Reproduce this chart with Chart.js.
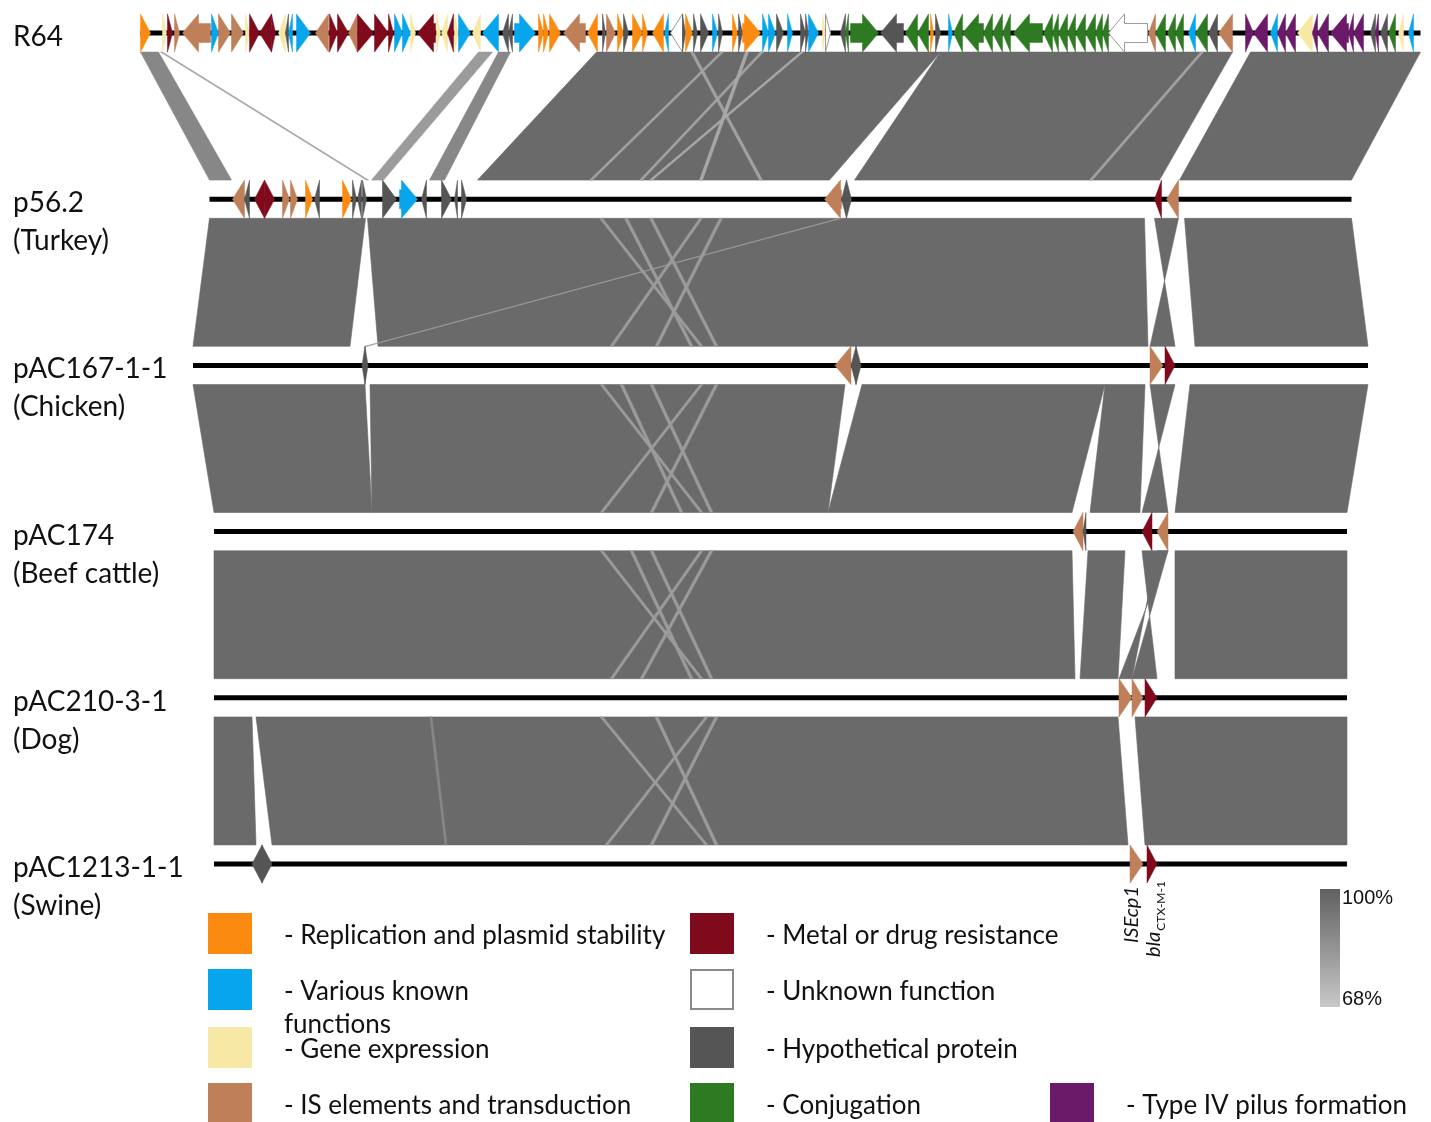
<!DOCTYPE html>
<html>
<head>
<meta charset="utf-8">
<script src="https://cdn.jsdelivr.net/npm/chart.js@4.4.1/dist/chart.umd.min.js"></script>
<style>
  html, body { margin: 0; padding: 0; background: #ffffff; }
  canvas { display: block; }
</style>
</head>
<body>
<canvas id="map" width="1431" height="1122"></canvas>
<script>
// ---- Plasmids (top to bottom) ----
const trackNames = ['R64', 'p56.2', 'pAC167-1-1', 'pAC174', 'pAC210-3-1', 'pAC1213-1-1'];
const trackHosts = ['', '(Turkey)', '(Chicken)', '(Beef cattle)', '(Dog)', '(Swine)'];
const trackLengthsKb = [128.0, 114.2, 117.5, 113.3, 113.3, 113.3];

// ---- Gene categories ----
const categoryKeys = ['rep', 'var', 'gex', 'is', 'res', 'unk', 'hyp', 'con', 't4p'];
const categoryLabels = [
  '- Replication and plasmid stability',
  '- Various known\nfunctions',
  '- Gene expression',
  '- IS elements and transduction',
  '- Metal or drug resistance',
  '- Unknown function',
  '- Hypothetical protein',
  '- Conjugation',
  '- Type IV pilus formation'
];

// ---- Genes: [start kb, end kb, strand, category] (positions from each plasmid's start) ----
const genesR64 = [
  [0.0, 1.0, 1, 'rep'], [2.2, 2.6, 1, 'gex'], [2.7, 3.2, 1, 'res'], [3.4, 3.9, 1, 'is'],
  [4.2, 7.0, -1, 'is'], [7.1, 7.8, 1, 'var'], [7.8, 9.0, 1, 'is'], [9.1, 10.3, 1, 'is'],
  [10.5, 10.9, 1, 'gex'], [10.9, 11.9, 1, 'res'], [11.9, 13.1, -1, 'res'], [13.1, 13.5, 1, 'res'],
  [13.8, 14.5, -1, 'gex'], [14.5, 14.8, -1, 'hyp'], [14.8, 15.2, -1, 'var'], [15.6, 17.0, 1, 'var'],
  [17.5, 18.8, -1, 'is'], [18.9, 19.7, 1, 'res'], [19.7, 20.8, 1, 'res'], [20.8, 21.7, -1, 'is'],
  [21.7, 23.3, 1, 'res'], [23.4, 24.8, 1, 'res'], [24.8, 25.3, 1, 'res'], [25.4, 26.2, 1, 'var'],
  [26.2, 27.0, 1, 'var'], [27.0, 27.5, 1, 'gex'], [27.7, 29.5, -1, 'res'], [29.6, 30.0, 1, 'gex'],
  [30.1, 30.7, -1, 'gex'], [30.7, 31.3, -1, 'res'], [31.4, 31.8, 1, 'gex'], [31.8, 33.0, 1, 'var'],
  [33.2, 34.0, -1, 'gex'], [34.2, 35.8, -1, 'var'], [36.2, 36.8, -1, 'hyp'], [36.8, 37.2, -1, 'hyp'],
  [37.4, 39.5, 1, 'var'], [39.8, 40.3, 1, 'rep'], [40.3, 40.8, 1, 'rep'], [40.9, 42.0, 1, 'rep'],
  [42.3, 44.5, -1, 'is'], [44.7, 45.7, -1, 'rep'], [46.2, 46.5, 1, 'hyp'], [46.6, 47.5, 1, 'is'],
  [47.7, 48.3, 1, 'rep'], [48.3, 48.8, 1, 'hyp'], [49.2, 50.2, 1, 'rep'], [50.2, 50.7, 1, 'rep'],
  [51.2, 52.3, -1, 'rep'], [52.4, 52.8, -1, 'var'], [53.0, 54.2, -1, 'unk'], [54.2, 54.5, 1, 'hyp'],
  [54.5, 55.2, 1, 'rep'], [55.3, 55.7, 1, 'hyp'], [56.0, 56.8, 1, 'hyp'], [57.2, 57.7, 1, 'var'],
  [57.8, 58.2, 1, 'hyp'], [59.2, 59.7, 1, 'rep'], [59.8, 60.2, 1, 'hyp'], [60.2, 62.0, 1, 'rep'],
  [62.2, 62.8, 1, 'var'], [62.8, 63.5, 1, 'var'], [63.6, 64.3, 1, 'hyp'], [64.7, 65.2, 1, 'var'],
  [66.0, 66.5, 1, 'hyp'], [66.5, 66.8, 1, 'hyp'], [66.8, 67.8, 1, 'var'], [68.2, 68.5, 1, 'gex'],
  [68.5, 69.0, 1, 'unk'], [70.0, 70.5, -1, 'hyp'], [70.5, 70.8, -1, 'con'], [71.0, 73.8, 1, 'con'],
  [74.0, 76.3, -1, 'hyp'], [76.5, 77.7, -1, 'con'], [77.7, 78.8, -1, 'con'], [79.0, 79.3, 1, 'rep'],
  [79.5, 80.0, 1, 'hyp'], [80.8, 81.2, 1, 'var'], [81.3, 82.2, -1, 'con'], [82.2, 84.3, -1, 'con'],
  [84.3, 85.2, -1, 'con'], [85.2, 86.2, -1, 'con'], [86.2, 87.0, -1, 'con'], [87.3, 90.2, -1, 'con'],
  [90.3, 91.2, -1, 'con'], [91.2, 91.8, -1, 'con'], [91.8, 92.7, -1, 'con'], [92.7, 93.5, -1, 'con'],
  [93.5, 94.5, -1, 'con'], [94.5, 95.5, -1, 'con'], [95.5, 96.2, -1, 'con'], [96.2, 96.8, -1, 'con'],
  [96.8, 100.7, -1, 'unk'], [100.8, 101.5, -1, 'is'], [101.5, 102.5, -1, 'con'], [102.7, 103.5, -1, 'con'],
  [103.5, 104.3, -1, 'con'], [104.8, 105.5, -1, 'var'], [105.5, 106.7, -1, 'con'], [106.8, 107.7, -1, 'hyp'],
  [107.8, 109.2, -1, 'is'], [110.5, 111.3, 1, 't4p'], [111.3, 112.7, -1, 't4p'], [113.0, 113.7, -1, 'var'],
  [113.7, 114.5, -1, 't4p'], [114.5, 115.5, -1, 't4p'], [115.7, 117.2, -1, 'gex'], [117.2, 117.7, -1, 't4p'],
  [117.7, 118.8, -1, 't4p'], [119.0, 120.8, -1, 't4p'], [120.8, 121.3, -1, 't4p'], [121.3, 122.3, -1, 't4p'],
  [123.0, 123.5, -1, 'hyp'], [123.5, 123.8, -1, 't4p'], [124.0, 124.7, -1, 'hyp'], [124.8, 125.5, -1, 'con'],
  [125.8, 126.3, -1, 'gex'], [126.8, 127.3, -1, 'var']
];
const genesP56 = [
  [2.3, 3.5, -1, 'is'], [3.5, 4.0, -1, 'hyp'], [4.5, 5.5, -1, 'res'], [5.5, 6.5, 1, 'res'],
  [7.3, 8.0, 1, 'is'], [8.1, 8.8, 1, 'is'], [9.6, 10.3, 1, 'rep'], [10.5, 11.0, -1, 'hyp'],
  [13.3, 14.2, 1, 'rep'], [14.3, 14.7, 1, 'hyp'], [14.8, 15.2, -1, 'hyp'], [15.3, 15.7, 1, 'hyp'],
  [17.3, 18.7, 1, 'hyp'], [19.0, 20.8, 1, 'var'], [21.2, 21.7, -1, 'hyp'], [23.2, 24.2, 1, 'hyp'],
  [24.5, 24.8, -1, 'hyp'], [25.2, 25.7, 1, 'hyp'], [61.5, 63.2, -1, 'is'], [63.2, 63.7, -1, 'hyp'],
  [63.7, 64.2, 1, 'hyp'], [94.5, 95.2, -1, 'res'], [95.7, 96.9, -1, 'is']
];
const genesAC167 = [
  [16.9, 17.2, -1, 'hyp'], [17.2, 17.5, 1, 'hyp'], [64.2, 65.8, -1, 'is'], [65.8, 66.3, -1, 'hyp'],
  [66.3, 66.8, 1, 'hyp'], [95.7, 97.0, 1, 'is'], [97.2, 98.2, 1, 'res']
];
const genesAC174 = [
  [85.9, 86.9, -1, 'is'], [86.9, 87.2, -1, 'hyp'], [92.8, 93.8, -1, 'res'], [94.3, 95.4, -1, 'is']
];
const genesAC210 = [
  [90.5, 91.8, 1, 'is'], [91.8, 92.9, 1, 'is'], [93.1, 94.3, 1, 'res']
];
const genesAC1213 = [
  [3.8, 4.8, -1, 'hyp'], [4.8, 5.8, 1, 'hyp'], [91.6, 92.9, 1, 'is'], [93.3, 94.3, 1, 'res']
];
const trackGenes = [genesR64, genesP56, genesAC167, genesAC174, genesAC210, genesAC1213];

// Named genes on pAC1213-1-1
const namedGenes = [
  { track: 5, gene: 2, text: 'ISEcp1', sub: '' },
  { track: 5, gene: 3, text: 'bla', sub: 'CTX-M-1' }
];

// ---- BLASTn hits between neighbouring plasmids ----
// [upper start, upper end, lower start, lower end, identity %]
// a lower start larger than the lower end marks an inverted hit
const hitsR64_P56 = [
  [0.0, 1.8, 0.0, 2.2, 88], [2.0, 2.2, 15.7, 15.9, 80], [33.8, 35.2, 16.2, 17.4, 82],
  [35.8, 37.0, 22.0, 23.5, 88], [45.6, 80.0, 26.8, 62.0, 97], [80.0, 109.2, 64.5, 95.0, 97],
  [111.0, 128.0, 97.0, 114.2, 97],
  [58.0, 58.3, 38.0, 38.3, 80], [60.5, 60.8, 49.0, 49.3, 78], [62.0, 62.3, 43.0, 43.3, 80],
  [66.0, 66.3, 44.0, 44.3, 78], [55.0, 55.3, 55.0, 55.3, 80], [106.0, 106.3, 88.0, 88.3, 80]
];
const hitsP56_AC167 = [
  [0.0, 15.6, 0.0, 15.7, 97], [15.8, 93.5, 18.5, 95.5, 97], [63.0, 63.2, 17.2, 17.4, 82],
  [94.5, 96.9, 98.2, 95.7, 97], [97.5, 114.2, 100.2, 117.5, 97],
  [39.0, 39.3, 50.7, 51.0, 82], [49.0, 49.3, 41.7, 42.0, 82], [44.0, 44.3, 52.2, 52.5, 82],
  [51.0, 51.3, 46.2, 46.5, 82], [41.5, 41.8, 49.7, 50.0, 82]
];
const hitsAC167_AC174 = [
  [0.0, 17.2, 0.0, 15.8, 97], [17.7, 65.2, 15.8, 61.4, 97], [66.9, 91.2, 61.4, 85.8, 97],
  [91.2, 95.2, 87.6, 92.6, 97], [95.7, 98.2, 95.4, 92.8, 97],
  [99.7, 117.5, 96.1, 113.3, 97],
  [40.7, 41.0, 48.6, 48.9, 82], [50.7, 51.0, 38.6, 38.9, 82], [45.7, 46.0, 49.6, 49.9, 82],
  [52.2, 52.5, 43.6, 43.9, 82], [42.7, 43.0, 46.6, 46.9, 82]
];
const hitsAC174_AC210 = [
  [0.0, 85.8, 0.0, 86.1, 97], [87.4, 91.1, 86.6, 90.4, 97], [92.8, 95.4, 94.3, 91.8, 97],
  [94.3, 95.4, 91.8, 90.5, 97], [96.1, 113.3, 96.1, 113.3, 97],
  [38.6, 38.9, 48.6, 48.9, 82], [48.6, 48.9, 39.6, 39.9, 82], [43.6, 43.9, 49.6, 49.9, 82],
  [49.6, 49.9, 42.6, 42.9, 82], [41.6, 41.9, 47.6, 47.9, 82]
];
const hitsAC210_AC1213 = [
  [0.0, 3.8, 0.0, 4.2, 97], [4.2, 90.4, 5.8, 91.4, 97], [92.1, 113.3, 93.1, 113.3, 97],
  [38.6, 38.9, 49.1, 49.4, 82], [49.1, 49.4, 39.1, 39.4, 82], [44.1, 44.4, 50.1, 50.4, 82],
  [50.1, 50.4, 43.6, 43.9, 82], [21.6, 21.8, 23.1, 23.3, 88]
];
const pairHits = [hitsR64_P56, hitsP56_AC167, hitsAC167_AC174, hitsAC174_AC210, hitsAC210_AC1213];

const identityRange = [68, 100];

// ---- Styling ----
const palette = {
  rep: '#fb8b10', var: '#07a6ec', gex: '#f8e8a6', is: '#bf7f58', res: '#7f0a1c',
  unk: '#ffffff', hyp: '#555555', con: '#2e7a22', t4p: '#6a1a68'
};
const frameKb = 143.1;          // width of the drawing frame in kb
const frameCentreKb = 78.05;    // plasmids are centred on this position
const geneHalf = 0.115;         // half height of a gene arrow (track units)
const headKb = 1.6;             // arrow head length

// legend grid: column x and row y of each category swatch
const legendCol = { rep: 208, var: 208, gex: 208, is: 208, res: 690, unk: 690, hyp: 690, con: 690, t4p: 1050 };
const legendRow = { rep: 913, var: 969, gex: 1027, is: 1083, res: 913, unk: 969, hyp: 1027, con: 1083, t4p: 1083 };

function trackOffset(i) { return frameCentreKb - trackLengthsKb[i] / 2; }
function identityGray(id) {
  const t = Math.max(0, Math.min(1, (id - identityRange[0]) / (identityRange[1] - identityRange[0])));
  const g = Math.round(200 - t * 104);
  return `rgb(${g},${g},${g})`;
}

const fontFace = 'Lato, "Open Sans", "Noto Sans", sans-serif';

const plasmidMap = {
  id: 'plasmidMap',
  beforeDatasetsDraw(chart) {
    const { ctx, scales: { x, y } } = chart;
    ctx.save();
    pairHits.forEach((hits, i) => {
      const o1 = trackOffset(i), o2 = trackOffset(i + 1);
      const yTop = y.getPixelForValue(i + geneHalf);
      const yBot = y.getPixelForValue(i + 1 - geneHalf);
      const sorted = hits.slice().sort((a, b) => b[4] - a[4]);
      sorted.forEach(h => {
        const c = identityGray(h[4]);
        ctx.fillStyle = c; ctx.strokeStyle = c; ctx.lineWidth = 0.6;
        ctx.beginPath();
        ctx.moveTo(x.getPixelForValue(o1 + h[0]), yTop);
        ctx.lineTo(x.getPixelForValue(o1 + h[1]), yTop);
        ctx.lineTo(x.getPixelForValue(o2 + h[3]), yBot);
        ctx.lineTo(x.getPixelForValue(o2 + h[2]), yBot);
        ctx.closePath();
        ctx.fill(); ctx.stroke();
      });
    });
    ctx.restore();
  },
  afterDatasetsDraw(chart) {
    const { ctx, scales: { x, y } } = chart;
    const headPx = x.getPixelForValue(headKb) - x.getPixelForValue(0);
    ctx.save();
    // gene arrows
    trackGenes.forEach((genes, i) => {
      const off = trackOffset(i);
      const yc = y.getPixelForValue(i);
      const hh = Math.abs(y.getPixelForValue(i + geneHalf) - yc);
      genes.forEach(g => {
        const x1 = x.getPixelForValue(off + g[0]);
        const x2 = x.getPixelForValue(off + g[1]);
        const len = x2 - x1;
        const head = Math.min(len, headPx);
        const sh = hh * 0.5;
        ctx.beginPath();
        if (g[2] > 0) {
          const hb = x2 - head;
          ctx.moveTo(x1, yc - sh); ctx.lineTo(hb, yc - sh); ctx.lineTo(hb, yc - hh);
          ctx.lineTo(x2, yc); ctx.lineTo(hb, yc + hh); ctx.lineTo(hb, yc + sh); ctx.lineTo(x1, yc + sh);
        } else {
          const hb = x1 + head;
          ctx.moveTo(x2, yc - sh); ctx.lineTo(hb, yc - sh); ctx.lineTo(hb, yc - hh);
          ctx.lineTo(x1, yc); ctx.lineTo(hb, yc + hh); ctx.lineTo(hb, yc + sh); ctx.lineTo(x2, yc + sh);
        }
        ctx.closePath();
        ctx.fillStyle = palette[g[3]];
        ctx.fill();
        ctx.lineWidth = g[3] === 'unk' ? 1 : 0.5;
        ctx.strokeStyle = g[3] === 'unk' ? '#9a9a9a' : palette[g[3]];
        ctx.stroke();
      });
    });

    // plasmid names
    ctx.fillStyle = '#111111';
    ctx.textBaseline = 'middle';
    ctx.textAlign = 'left';
    ctx.font = `28px ${fontFace}`;
    trackNames.forEach((n, i) => {
      const yc = y.getPixelForValue(i);
      ctx.fillText(n, 13, yc + 4);
      if (trackHosts[i]) ctx.fillText(trackHosts[i], 13, yc + 42);
    });

    // gene names, written upwards under their arrows
    namedGenes.forEach(ng => {
      const g = trackGenes[ng.track][ng.gene];
      const cx = x.getPixelForValue(trackOffset(ng.track) + (g[0] + g[1]) / 2);
      const yb = y.getPixelForValue(ng.track) + 22;
      ctx.save();
      ctx.translate(cx + (ng.sub ? 8 : 1), ng.sub ? yb + 71 : yb + 57);
      ctx.rotate(-Math.PI / 2);
      ctx.textBaseline = 'alphabetic';
      ctx.font = `italic 20px ${fontFace}`;
      ctx.fillText(ng.text, 0, 0);
      if (ng.sub) {
        const w = ctx.measureText(ng.text).width;
        ctx.font = `12px ${fontFace}`;
        ctx.fillText(ng.sub, w + 1, 5);
      }
      ctx.restore();
    });

    // legend
    ctx.font = `26px ${fontFace}`;
    categoryKeys.forEach((k, i) => {
      const bx = legendCol[k], by = legendRow[k];
      ctx.fillStyle = palette[k];
      ctx.fillRect(bx, by, 44, 41);
      if (k === 'unk') {
        ctx.strokeStyle = '#8a8a8a'; ctx.lineWidth = 2;
        ctx.strokeRect(bx + 1, by + 1, 42, 39);
      }
      ctx.fillStyle = '#111111';
      const lines = categoryLabels[i].split('\n');
      lines.forEach((ln, j) => ctx.fillText(ln, bx + 76, by + 23 + j * 33));
    });

    // identity scale
    const grad = ctx.createLinearGradient(0, 889, 0, 1007);
    grad.addColorStop(0, identityGray(identityRange[1]));
    grad.addColorStop(1, identityGray(identityRange[0]));
    ctx.fillStyle = grad;
    ctx.fillRect(1320, 889, 20, 118);
    ctx.fillStyle = '#111111';
    ctx.font = '20px "Liberation Sans", Arial, sans-serif';
    ctx.fillText(identityRange[1] + '%', 1342, 898);
    ctx.fillText(identityRange[0] + '%', 1342, 999);
    ctx.restore();
  }
};

// backbone line of every plasmid
const backbones = trackNames.map((n, i) => ({
  label: n,
  data: [{ x: trackOffset(i), y: i }, { x: trackOffset(i) + trackLengthsKb[i], y: i }],
  showLine: true,
  borderColor: '#000000',
  borderWidth: 5,
  pointRadius: 0,
  borderCapStyle: 'butt'
}));

new Chart(document.getElementById('map'), {
  type: 'scatter',
  data: { datasets: backbones },
  options: {
    responsive: false,
    animation: false,
    devicePixelRatio: 1,
    layout: { padding: 0 },
    plugins: { legend: { display: false }, tooltip: { enabled: false } },
    scales: {
      x: { type: 'linear', min: 0, max: frameKb, display: false },
      y: { type: 'linear', min: -0.1986, max: 6.5523, reverse: true, display: false }
    }
  },
  plugins: [plasmidMap]
});
</script>
</body>
</html>
